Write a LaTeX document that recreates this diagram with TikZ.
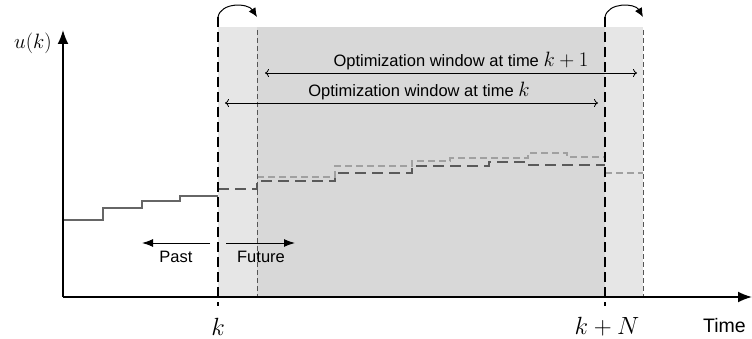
\documentclass[tikz,border=0pt]{standalone}
\usepackage{fontspec}
\setmainfont{Liberation Sans}
\usetikzlibrary{arrows.meta}
\definecolor{shadelight}{HTML}{E6E6E6}
\definecolor{shadedark}{HTML}{D8D8D8}
\definecolor{trajdark}{HTML}{5A5A5A}
\definecolor{trajlight}{HTML}{A0A0A0}
\definecolor{pastcol}{HTML}{666666}
\definecolor{guidecol}{HTML}{555555}
\begin{document}
\begin{tikzpicture}[x=1pt,y=-1pt,
  txt/.style={inner sep=0pt,font=\fontsize{16.5}{19}\selectfont},
  mathlbl/.style={inner sep=0pt,font=\fontsize{24}{28}\selectfont},
  axisline/.style={line width=1.7pt,-{Latex[length=14pt,width=11pt]}},
  bigdash/.style={line width=2pt,dash pattern=on 10pt off 5pt},
  smalldash/.style={line width=1pt,guidecol,dash pattern=on 5pt off 3pt},
  predk/.style={line width=2pt,trajdark,dash pattern=on 11pt off 6pt},
  predk1/.style={line width=1.2pt,trajlight,dash pattern=on 7pt off 4pt},
  pastline/.style={line width=1.5pt,pastcol},
  winarrow/.style={line width=0.8pt,{To[length=4pt,width=8pt]}-{To[length=4pt,width=8pt]}},
  dirarrow/.style={line width=1pt,-{Latex[length=11pt,width=8pt]}},
  shiftarrow/.style={line width=1pt,-{Latex[length=9pt,width=8pt]}}]
\useasboundingbox (0,0) rectangle (752,339);
% shaded regions
\fill[shadelight] (218,27) rectangle (257,297);
\fill[shadedark] (257,27) rectangle (605,297);
\fill[shadelight] (605,27) rectangle (643,297);
% named coordinates
\coordinate (O) at (63,297);
\coordinate (ytip) at (63,30);
\coordinate (xtip) at (752,297);
\coordinate (ktop) at (218,17);
\coordinate (kbot) at (218,306);
\coordinate (k1top) at (257,30);
\coordinate (k1bot) at (257,297);
\coordinate (kNtop) at (605,17);
\coordinate (kNbot) at (605,306);
\coordinate (kN1top) at (643,30);
\coordinate (kN1bot) at (643,297);
\coordinate (k1arc) at (257,17);
\coordinate (kN1arc) at (643,17);
% trajectories
\draw[pastline] (63,220) -| (103,208) -| (142,201) -| (180,196) -- (218,196);
\draw[predk] (218,189) -| (257,181) -| (335,173) -| (412,166) -| (489,162) -| (528,165) -- (605,165);
\draw[predk1] (257,177) -| (335,166) -| (412,161) -| (450,158) -| (528,153) -| (567,157) -- (605,157);
\draw[predk1] (605,173) -- (643,173);
% vertical guides
\draw[smalldash] (k1top) -- (k1bot);
\draw[smalldash] (kN1top) -- (kN1bot);
\draw[bigdash] (ktop) -- (kbot);
\draw[bigdash] (kNtop) -- (kNbot);
% axes
\draw[axisline] (O) -- (ytip);
\draw[axisline] (O) -- (xtip);
% shift arrows
\draw[shiftarrow] (ktop) .. controls (221,2) and (248,3) .. (k1arc);
\draw[shiftarrow] (kNtop) .. controls (608,2) and (635,3) .. (kN1arc);
% optimization windows
\coordinate (w1l) at (265,73);
\coordinate (w1r) at (637,73);
\coordinate (w0l) at (225,103);
\coordinate (w0r) at (598,103);
\draw[winarrow] (w1l) -- (w1r);
\draw[winarrow] (w0l) -- (w0r);
\node[txt] (lw1) at (461,61) {Optimization window at time {\fontsize{21}{24}\selectfont$k+1$}};
\node[txt] (lw0) at (419,91) {Optimization window at time {\fontsize{21}{24}\selectfont$k$}};
% past / future
\coordinate (pa) at (210,243);
\coordinate (pb) at (142,243);
\coordinate (fa) at (226,243);
\coordinate (fb) at (295,243);
\draw[dirarrow] (pa) -- (pb);
\draw[dirarrow] (fa) -- (fb);
\node[txt] (past) at (176,257) {Past};
\node[txt] (future) at (261,257) {Future};
% labels
\node[inner sep=0pt,font=\fontsize{21}{24}\selectfont] (ulbl) at (33,43) {$u(k)$};
\node[mathlbl] (klbl) at (218,327) {$k$};
\node[mathlbl] (kNlbl) at (607,327) {$k+N$};
\node[inner sep=0pt,anchor=west,font=\fontsize{19.5}{22}\selectfont] (time) at (703,326) {Time};
\end{tikzpicture}
\end{document}
